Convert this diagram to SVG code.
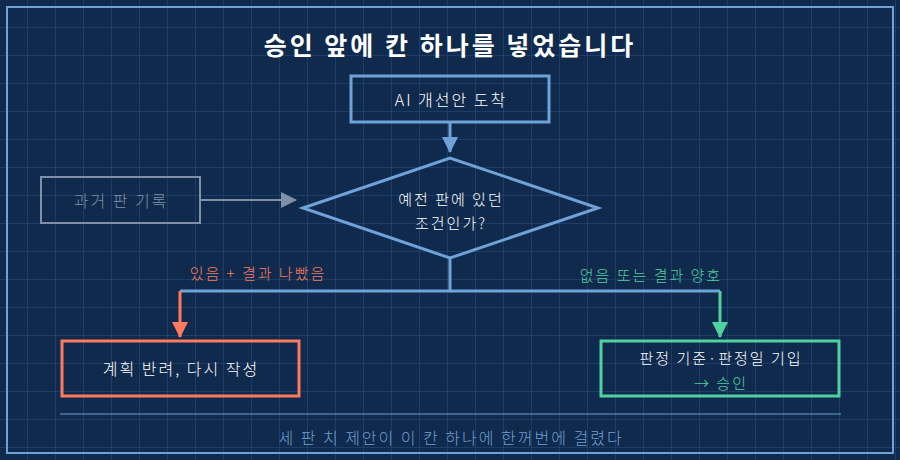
<svg xmlns="http://www.w3.org/2000/svg" width="900" height="460" viewBox="0 0 900 460">
<defs>
<pattern id="grid" width="28" height="28" patternUnits="userSpaceOnUse"><path d="M28 0V28M0 28H28" fill="none" stroke="#27507f" stroke-width="1"/></pattern>
<marker id="ag" markerWidth="16" markerHeight="16" refX="15" refY="8" orient="auto" markerUnits="userSpaceOnUse"><path d="M0 0L16 8L0 16z" fill="#8090a8"/></marker>
<marker id="abl" markerWidth="16" markerHeight="16" refX="15" refY="8" orient="auto" markerUnits="userSpaceOnUse"><path d="M0 0L16 8L0 16z" fill="#6fa3d8"/></marker>
<marker id="ar" markerWidth="16" markerHeight="16" refX="15" refY="8" orient="auto" markerUnits="userSpaceOnUse"><path d="M0 0L16 8L0 16z" fill="#ff7a5c"/></marker>
<marker id="agr" markerWidth="16" markerHeight="16" refX="15" refY="8" orient="auto" markerUnits="userSpaceOnUse"><path d="M0 0L16 8L0 16z" fill="#4fd1a0"/></marker>
</defs>
<style>
text{font-family:"Noto Sans CJK KR","Noto Sans",sans-serif;text-anchor:middle;font-weight:300;letter-spacing:2px}
.n{fill:none;stroke-width:3}
.t{font-size:16px;fill:#ffffff}
</style>
<rect width="900" height="460" fill="#0f2a4d"/>
<rect width="900" height="460" fill="url(#grid)"/>
<rect x="7" y="7" width="886" height="446" fill="none" stroke="#6fa3d8" stroke-width="2"/>
<text x="450" y="55" font-size="25" style="font-weight:bold;letter-spacing:3px" fill="#ffffff">승인 앞에 칸 하나를 넣었습니다</text>
<g id="connectors" fill="none" stroke-width="3">
<path d="M450 123V152" stroke="#6fa3d8" marker-end="url(#abl)"/>
<path d="M200 200H296" stroke="#8090a8" stroke-width="2" marker-end="url(#ag)"/>
<path d="M450 258V291H180" stroke="#6fa3d8"/>
<path d="M450 291H720" stroke="#6fa3d8"/>
<path d="M180 291V337" stroke="#ff7a5c" marker-end="url(#ar)"/>
<path d="M720 291V337" stroke="#4fd1a0" marker-end="url(#agr)"/>
<text x="258" y="279" font-size="15" fill="#ff7a5c" stroke="none">있음 + 결과 나빴음</text>
<text x="651" y="281" font-size="15" fill="#4fd1a0" stroke="none">없음 또는 결과 양호</text>
</g>
<g id="ai"><rect x="351" y="76" width="198" height="46" class="n" stroke="#6fa3d8"/><text x="451" y="106" class="t">AI 개선안 도착</text></g>
<g id="past"><rect x="41" y="177" width="159" height="46" fill="none" stroke="#8090a8" stroke-width="2"/><text x="121" y="207" font-size="16" fill="#8090a8">과거 판 기록</text></g>
<g id="decision"><path d="M303 208L450 158L598 208L450 258z" class="n" stroke="#6fa3d8" fill="#0f2a4d"/><text x="451" y="205" font-size="15" fill="#fff">예전 판에 있던</text><text x="451" y="229" font-size="15" fill="#fff">조건인가?</text></g>
<g id="reject"><rect x="62" y="341" width="237" height="55" class="n" stroke="#ff7a5c"/><text x="181" y="375" class="t">계획 반려, 다시 작성</text></g>
<g id="approve"><rect x="601" y="341" width="238" height="55" class="n" stroke="#4fd1a0"/><text x="721" y="364" font-size="15" fill="#fff">판정 기준·판정일 기입</text><text x="721" y="389" font-size="15" fill="#4fd1a0">→ 승인</text></g>
<line x1="60" y1="414" x2="841" y2="414" stroke="#6fa3d8" stroke-width="1"/>
<text x="451" y="444" font-size="16" fill="#6f9fd0">세 판 치 제안이 이 칸 하나에 한꺼번에 걸렸다</text>
</svg>
